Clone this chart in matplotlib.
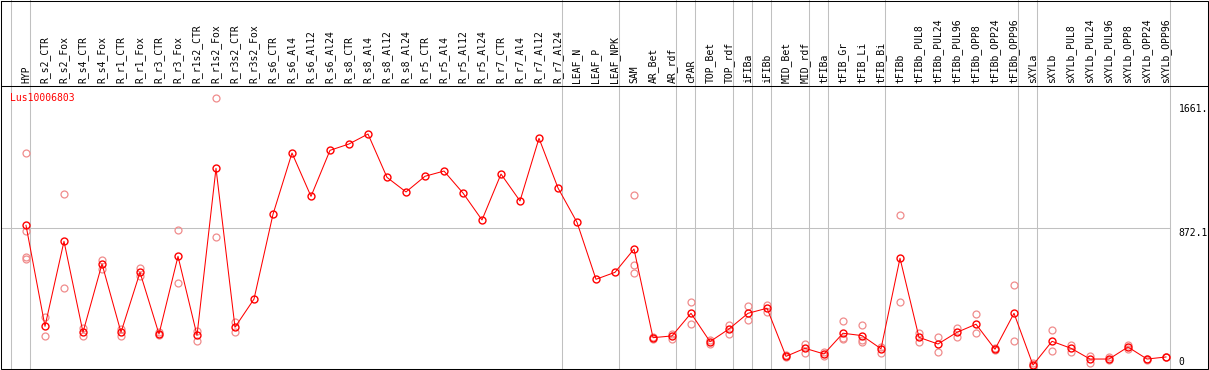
import matplotlib
matplotlib.use("Agg")
import matplotlib.pyplot as plt

samples = ["HYP", "R_s2_CTR", "R_s2_Fox", "R_s4_CTR", "R_s4_Fox", "R_r1_CTR", "R_r1_Fox",
           "R_r3_CTR", "R_r3_Fox", "R_r1s2_CTR", "R_r1s2_Fox", "R_r3s2_CTR", "R_r3s2_Fox",
           "R_s6_CTR", "R_s6_Al4", "R_s6_Al12", "R_s6_Al24", "R_s8_CTR", "R_s8_Al4",
           "R_s8_Al12", "R_s8_Al24", "R_r5_CTR", "R_r5_Al4", "R_r5_Al12", "R_r5_Al24",
           "R_r7_CTR", "R_r7_Al4", "R_r7_Al12", "R_r7_Al24", "LEAF_N", "LEAF_P", "LEAF_NPK",
           "SAM", "AR_Bet", "AR_rdf", "cPAR", "TOP_Bet", "TOP_rdf", "iFIBa", "iFIBb",
           "MID_Bet", "MID_rdf", "tFIBa", "tFIB_Gr", "tFIB_Li", "tFIB_Bi", "tFIBb",
           "tFIBb_PUL8", "tFIBb_PUL24", "tFIBb_PUL96", "tFIBb_OPP8", "tFIBb_OPP24",
           "tFIBb_OPP96", "sXYLa", "sXYLb", "sXYLb_PUL8", "sXYLb_PUL24", "sXYLb_PUL96",
           "sXYLb_OPP8", "sXYLb_OPP24", "sXYLb_OPP96"]

means = [889, 251, 788, 213, 645, 213, 592, 202, 693, 194, 1249, 245, 423,
         959, 1346, 1072, 1363, 1403, 1466, 1192, 1100, 1199, 1232, 1093, 923,
         1213, 1043, 1439, 1125, 908, 548, 592,
         739, 179, 190, 333, 154, 234, 333, 365, 61, 112, 76, 207, 192, 109, 681,
         181, 139, 213, 264, 106, 333,
         6, 156, 112, 44, 44, 120, 44, 57]

replicates = [
    [1344, 853, 691, 674], [308, 188], [1085, 491], [238, 190], [670, 613],
    [234, 190], [621, 569], [213, 194], [858, 523], [223, 160], [1692, 813],
    [278, 213], [],
    [], [], [], [], [], [], [], [], [], [], [], [], [], [], [], [], [], [], [],
    [1079, 638, 590], [185, 173], [202, 173], [405, 264], [164, 137], [261, 202],
    [377, 289], [386, 341], [70, 54], [139, 80], [88, 66], [283, 169, 175],
    [257, 150, 165], [122, 84], [952, 405],
    [210, 154], [181, 87], [240, 183], [329, 207], [111, 101], [510, 160],
    [19, 1], [228, 93], [133, 90], [63, 21], [55, 38], [131, 106], [46, 36], [60, 54],
]

gene = "Lus10006803"
tick_values = [1661, 872.1, 0]
tick_labels = ["1661.", "872.1", "0"]
separators_after = [-1, 0, 28, 31, 34, 35, 37, 38, 39, 41, 42, 45, 52, 53, 60]

RED = "#ff0000"
PINK = "#f08c8c"
GRAY = "#c0c0c0"
SCALE = 0.15824  # px per unit


def dx(px):
    return (px - 26) / 19.0


def dy(py):
    return (366 - py) / SCALE


W, H = 1209, 370
fig = plt.figure(figsize=(W / 100, H / 100), dpi=100)
ax = fig.add_axes([0, 0, 1, 1])
ax.set_xlim(dx(0), dx(W))
ax.set_ylim(dy(H), dy(0))
ax.axis("off")

lw = 0.75
# grid lines
for s in separators_after:
    x = s + 4.3 / 19
    ax.plot([x, x], [dy(0), dy(369)], color=GRAY, lw=lw, zorder=1)
ax.plot([dx(1), dx(1170)], [872.1, 872.1], color=GRAY, lw=lw, zorder=1)

# frame
ax.plot([dx(1.5), dx(1207.5), dx(1207.5), dx(1.5), dx(1.5)],
        [dy(0.5), dy(0.5), dy(368.5), dy(368.5), dy(0.5)], color="black", lw=lw,
        zorder=5, solid_joinstyle="miter")
ax.plot([dx(1.5), dx(1207.5)], [dy(85.5), dy(85.5)], color="black", lw=lw, zorder=5)

# column labels
for i, name in enumerate(samples):
    ax.text(i, dy(83), name, rotation=90, ha="center", va="bottom",
            fontsize=7, family="DejaVu Sans Mono", color="black")

# replicates
rx, ry = [], []
for i, reps in enumerate(replicates):
    for v in reps:
        rx.append(i)
        ry.append(v)
ax.plot(rx, ry, linestyle="none", marker="o", ms=5.0, mfc="none", mec=PINK,
        mew=0.9, zorder=3)

# means
xs = list(range(len(samples)))
ax.plot(xs, means, color=RED, lw=lw, marker="o", ms=5.0, mfc="none", mec=RED,
        mew=1.0, zorder=4)

ax.text(dx(10), dy(101), gene, ha="left", va="baseline", fontsize=7,
        family="DejaVu Sans Mono", color=RED)

label_base = {1661: 111.5, 872.1: 235.5, 0: 365}
for v, lab in zip(tick_values, tick_labels):
    ax.text(dx(1178.5), dy(label_base[v]), lab, ha="left", va="baseline", fontsize=7,
            family="DejaVu Sans Mono", color="black")

fig.savefig("out.png", dpi=100)
